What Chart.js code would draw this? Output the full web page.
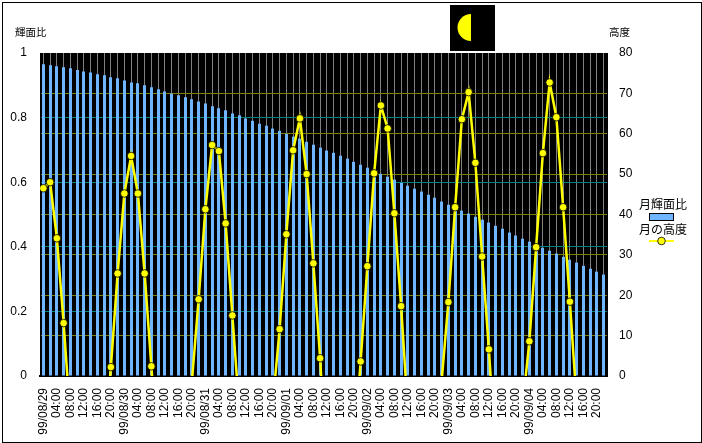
<!DOCTYPE html>
<html>
<head>
<meta charset="utf-8">
<script src="https://cdn.jsdelivr.net/npm/chart.js@4"></script>
<style>
    html, body { margin: 0; padding: 0; background: #fff; }
    #frame { position: absolute; left: 2px; top: 2px; width: 700px; height: 441px; box-sizing: border-box; border: 1px solid #000; }
    #moon-chart { position: absolute; left: 0; top: 0; }
</style>
</head>
<body>
<canvas id="moon-chart" width="702" height="443"></canvas>
<div id="frame"></div>
<script>
const timeLabels = [
    '99/08/29', '02:00', '04:00', '06:00', '08:00', '10:00', '12:00', '14:00', '16:00', '18:00', '20:00', '22:00',
    '99/08/30', '02:00', '04:00', '06:00', '08:00', '10:00', '12:00', '14:00', '16:00', '18:00', '20:00', '22:00',
    '99/08/31', '02:00', '04:00', '06:00', '08:00', '10:00', '12:00', '14:00', '16:00', '18:00', '20:00', '22:00',
    '99/09/01', '02:00', '04:00', '06:00', '08:00', '10:00', '12:00', '14:00', '16:00', '18:00', '20:00', '22:00',
    '99/09/02', '02:00', '04:00', '06:00', '08:00', '10:00', '12:00', '14:00', '16:00', '18:00', '20:00', '22:00',
    '99/09/03', '02:00', '04:00', '06:00', '08:00', '10:00', '12:00', '14:00', '16:00', '18:00', '20:00', '22:00',
    '99/09/04', '02:00', '04:00', '06:00', '08:00', '10:00', '12:00', '14:00', '16:00', '18:00', '20:00', '22:00'
];

// 月輝面比 (left axis)
const brightness = [
    .965, .962, .959, .956, .953, .947, .943, .940, .934, .931, .925, .922,
    .915, .909, .906, .900, .894, .888, .881, .875, .869, .863, .857, .850,
    .844, .835, .829, .823, .813, .807, .797, .790, .781, .775, .766, .759,
    .750, .741, .735, .725, .716, .707, .698, .691, .682, .673, .663, .654,
    .645, .636, .626, .617, .608, .598, .589, .580, .571, .561, .552, .540,
    .530, .521, .512, .503, .493, .484, .475, .465, .456, .444, .435, .425,
    .416, .406, .397, .388, .379, .369, .360, .351, .341, .332, .323, .314
];

// 月の高度 (right axis), below the horizon the line is cut off by the plot
const altitude = [
    46.5, 48.0, 34.1, 13.1, -10.7, null, null, null, null, -21, 2.2, 25.4,
    45.2, 54.5, 45.2, 25.4, 2.4, -21, null, null, null, null, -1.4, 19.0,
    41.3, 57.2, 55.7, 37.8, 15.0, -8, null, null, null, null, -6.6, 11.6,
    35.1, 55.9, 63.8, 50.0, 27.9, 4.4, -25, null, null, null, -20, 3.6,
    27.2, 50.2, 67.0, 61.3, 40.3, 17.3, -9, null, null, null, null, -1.3,
    18.3, 41.8, 63.6, 70.3, 52.8, 29.6, 6.6, -19.6, null, null, null, -7.5,
    8.6, 31.9, 55.2, 72.7, 64.1, 41.8, 18.4, -6.4, null, null, null, null
];

const barName = '月輝面比';
const lineName = '月の高度';
const leftTitle = '輝面比';
const rightTitle = '高度';

const barColor = '#70B5FF';
const lineColor = '#FFFF00';
const tickFont = { family: '"Liberation Sans", sans-serif', size: 12 };
const cjkFont = '"Noto Sans CJK JP", sans-serif';

// plot background, moon icon, horizontal axis titles and the stacked legend
const extras = {
    id: 'extras',
    beforeDraw(chart) {
        const a = chart.chartArea;
        const ctx = chart.ctx;
        ctx.save();
        ctx.fillStyle = '#000';
        ctx.fillRect(a.left, a.top, a.right - a.left, a.bottom - a.top);
        ctx.restore();
    },
    // snap the bars to whole pixels so the gaps stay clean
    beforeDatasetsDraw(chart) {
        chart.getDatasetMeta(1).data.forEach(bar => {
            bar.x = Math.round(bar.x - 1.5) + 1.5;
        });
    },
    afterDraw(chart) {
        const ctx = chart.ctx;
        ctx.save();

        ctx.fillStyle = '#000';
        ctx.fillRect(450, 5, 45, 46);
        ctx.fillStyle = lineColor;
        ctx.beginPath();
        ctx.arc(471, 27.5, 13.5, Math.PI / 2, Math.PI * 1.5);
        ctx.closePath();
        ctx.fill();

        ctx.fillStyle = '#000';
        ctx.textBaseline = 'middle';
        ctx.font = '10.5px ' + cjkFont;
        ctx.textAlign = 'left';
        ctx.fillText(leftTitle, 15, 32);
        ctx.fillText(rightTitle, 609, 32);

        ctx.font = '12px ' + cjkFont;
        ctx.textAlign = 'center';
        ctx.fillText(barName, 663, 204);
        ctx.fillText(lineName, 663, 229);

        ctx.fillStyle = barColor;
        ctx.strokeStyle = '#000';
        ctx.lineWidth = 1;
        ctx.fillRect(649.5, 213.5, 24, 7);
        ctx.strokeRect(649.5, 213.5, 24, 7);

        ctx.strokeStyle = lineColor;
        ctx.lineWidth = 2;
        ctx.beginPath();
        ctx.moveTo(649, 241);
        ctx.lineTo(674, 241);
        ctx.stroke();
        ctx.fillStyle = lineColor;
        ctx.strokeStyle = '#000';
        ctx.lineWidth = 0.8;
        ctx.beginPath();
        ctx.arc(661.5, 241, 3.8, 0, Math.PI * 2);
        ctx.fill();
        ctx.stroke();

        ctx.restore();
    }
};

const ctx = document.getElementById('moon-chart').getContext('2d');
new Chart(ctx, {
    type: 'bar',
    data: {
        labels: timeLabels,
        datasets: [{
            type: 'line',
            label: lineName,
            data: altitude,
            yAxisID: 'y1',
            order: 0,
            clip: 0,
            borderColor: lineColor,
            borderWidth: 2.5,
            tension: 0,
            spanGaps: false,
            pointRadius: 3.8,
            pointBackgroundColor: lineColor,
            pointBorderColor: '#000',
            pointBorderWidth: 0.8
        }, {
            label: barName,
            data: brightness,
            yAxisID: 'y',
            order: 1,
            backgroundColor: barColor,
            barThickness: 3,
            inflateAmount: 0
        }]
    },
    options: {
        responsive: false,
        animation: false,
        layout: { padding: { top: 53 } },
        plugins: {
            legend: { display: false },
            tooltip: { enabled: false }
        },
        scales: {
            x: {
                offset: true,
                grid: { color: '#808080', offset: false, drawTicks: false },
                border: { color: '#000', width: 2 },
                afterFit(scale) { scale.height = 67; },
                ticks: {
                    autoSkip: false,
                    maxRotation: 90,
                    minRotation: 90,
                    padding: 12,
                    color: '#000',
                    font: tickFont,
                    callback(value, index) {
                        return index % 2 === 0 ? timeLabels[index] : '';
                    }
                }
            },
            y: {
                position: 'left',
                min: 0,
                max: 1,
                grid: {
                    drawTicks: false,
                    color: c => (c.tick.value === 0 || c.tick.value === 1) ? 'transparent' : '#008080'
                },
                border: { color: '#000' },
                afterFit(scale) { scale.width = 40; },
                ticks: {
                    stepSize: 0.2,
                    padding: 13,
                    color: '#000',
                    font: tickFont,
                    callback(value) { return String(Math.round(value * 10) / 10); }
                }
            },
            y1: {
                position: 'right',
                min: 0,
                max: 80,
                grid: {
                    drawTicks: false,
                    color: c => (c.tick.value === 0 || c.tick.value === 80) ? 'transparent' : '#808000'
                },
                border: { color: '#000' },
                afterFit(scale) { scale.width = 95; },
                ticks: { stepSize: 10, padding: 12, color: '#000', font: tickFont }
            }
        }
    },
    plugins: [extras]
});
</script>
</body>
</html>
